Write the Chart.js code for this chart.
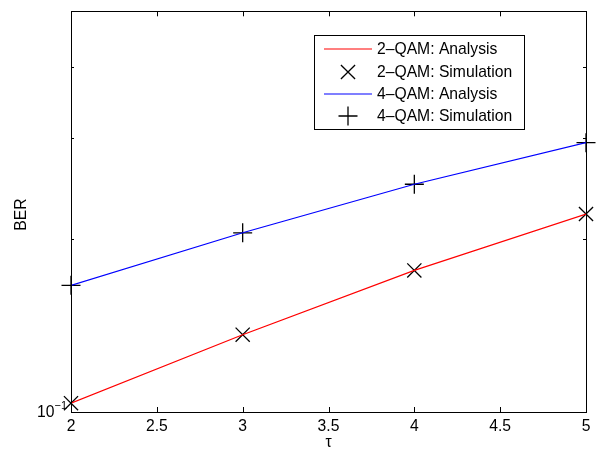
<!DOCTYPE html>
<html>
<head>
<meta charset="utf-8">
<script src="https://cdn.jsdelivr.net/npm/chart.js@4.4.0/dist/chart.umd.min.js"></script>
<style>
  body { margin: 0; background: #fff; }
  #wrap { width: 603px; height: 454px; }
</style>
</head>
<body>
<div id="wrap"><canvas id="ber-chart" width="603" height="454"></canvas></div>
<script>
// Datos
const tauValues = [2, 3, 4, 5];
const ber2qam = [0.1036, 0.1364, 0.1766, 0.2215];
const ber4qam = [0.1663, 0.2054, 0.2496, 0.2950];
const xTicks = [2, 2.5, 3, 3.5, 4, 4.5, 5];
const yMinorTicks = [0.2, 0.3, 0.4];
const seriesLabels = ['2\u2013QAM: Analysis', '2\u2013QAM: Simulation', '4\u2013QAM: Analysis', '4\u2013QAM: Simulation'];

const FONT = '"Liberation Sans", Arial, sans-serif';
const FS = '15.7px ';

function toPoints(ys) {
    return tauValues.map((t, i) => ({ x: t, y: ys[i] }));
}

// Plugin para dibujar ejes estilo MATLAB y la leyenda
const matlabAxes = {
    id: 'matlabAxes',
    afterDraw(chart) {
        const ctx = chart.ctx;
        const a = chart.chartArea;
        const xs = chart.scales.x;
        const ys = chart.scales.y;
        ctx.save();
        ctx.strokeStyle = '#000';
        ctx.lineWidth = 1;

        // caja
        ctx.strokeRect(Math.round(a.left) + 0.5, Math.round(a.top) + 0.5,
            Math.round(a.right - a.left), Math.round(a.bottom - a.top));

        // ticks x (abajo y arriba)
        ctx.beginPath();
        xTicks.forEach(v => {
            const px = Math.round(xs.getPixelForValue(v)) + 0.5;
            ctx.moveTo(px, a.bottom); ctx.lineTo(px, a.bottom - 5);
            ctx.moveTo(px, a.top); ctx.lineTo(px, a.top + 5);
        });
        // ticks y menores
        yMinorTicks.forEach(v => {
            const py = Math.round(ys.getPixelForValue(v)) + 0.5;
            ctx.moveTo(a.left, py); ctx.lineTo(a.left + 3, py);
            ctx.moveTo(a.right, py); ctx.lineTo(a.right - 3, py);
        });
        ctx.stroke();

        // etiquetas x
        ctx.fillStyle = '#000';
        ctx.font = FS + FONT;
        ctx.textAlign = 'center';
        ctx.textBaseline = 'middle';
        xTicks.forEach(v => {
            ctx.fillText(String(v), xs.getPixelForValue(v), a.bottom + 15);
        });

        // etiqueta 10^-1
        const y01 = ys.getPixelForValue(0.1);
        ctx.font = '11px ' + FONT;
        ctx.textAlign = 'right';
        const supW = ctx.measureText('\u22121').width;
        ctx.fillText('\u22121', a.left - 4, y01 - 6);
        ctx.font = FS + FONT;
        ctx.fillText('10', a.left - 4 - supW, y01 + 1);

        // titulos de ejes
        ctx.textAlign = 'center';
        ctx.font = FS + FONT;
        ctx.fillText('\u03c4', (a.left + a.right) / 2, a.bottom + 31);
        ctx.save();
        ctx.translate(22, (a.top + a.bottom) / 2 + 3);
        ctx.rotate(-Math.PI / 2);
        ctx.fillText('BER', 0, 0);
        ctx.restore();

        // leyenda
        const lx = 314, ly = 35, lw = 210, lh = 94;
        ctx.fillStyle = '#fff';
        ctx.fillRect(lx, ly, lw, lh);
        ctx.strokeStyle = '#000';
        ctx.lineWidth = 1;
        ctx.strokeRect(lx + 0.5, ly + 0.5, lw, lh);
        const rowY = [49, 72, 94, 116];
        chart.data.datasets.forEach((ds, i) => {
            const cy = rowY[i];
            if (ds.showLine !== false) {
                ctx.strokeStyle = ds.borderColor;
                ctx.lineWidth = 1.2;
                ctx.beginPath();
                ctx.moveTo(324, cy); ctx.lineTo(372, cy);
                ctx.stroke();
            } else {
                ctx.strokeStyle = '#000';
                ctx.lineWidth = 1.3;
                Chart.helpers.drawPoint(ctx, {
                    pointStyle: ds.pointStyle,
                    radius: ds.pointRadius,
                    borderWidth: 1.3
                }, 348, cy);
            }
            ctx.fillStyle = '#000';
            ctx.font = FS + FONT;
            ctx.textAlign = 'left';
            ctx.fillText(ds.label, 377, cy + 1);
        });
        ctx.restore();
    }
};

const config = {
    type: 'line',
    data: {
        datasets: [{
            label: seriesLabels[0],
            data: toPoints(ber2qam),
            borderColor: '#ff0000',
            borderWidth: 1.2,
            pointRadius: 0,
            tension: 0
        }, {
            label: seriesLabels[1],
            data: toPoints(ber2qam),
            showLine: false,
            pointStyle: 'crossRot',
            pointRadius: 10,
            borderColor: '#000',
            pointBorderWidth: 1.3,
            clip: false
        }, {
            label: seriesLabels[2],
            data: toPoints(ber4qam),
            borderColor: '#0000ff',
            borderWidth: 1.2,
            pointRadius: 0,
            tension: 0
        }, {
            label: seriesLabels[3],
            data: toPoints(ber4qam),
            showLine: false,
            pointStyle: 'cross',
            pointRadius: 9.5,
            borderColor: '#000',
            pointBorderWidth: 1.3,
            clip: false
        }]
    },
    options: {
        responsive: false,
        animation: false,
        layout: {
            padding: { left: 71, right: 17, top: 7, bottom: 42 }
        },
        plugins: {
            legend: { display: false },
            tooltip: { enabled: false }
        },
        scales: {
            x: { type: 'linear', min: 2, max: 5, display: false },
            y: { type: 'logarithmic', min: 0.1, max: 0.5, display: false }
        }
    },
    plugins: [matlabAxes]
};

const ctx = document.getElementById('ber-chart').getContext('2d');
new Chart(ctx, config);
</script>
</body>
</html>
